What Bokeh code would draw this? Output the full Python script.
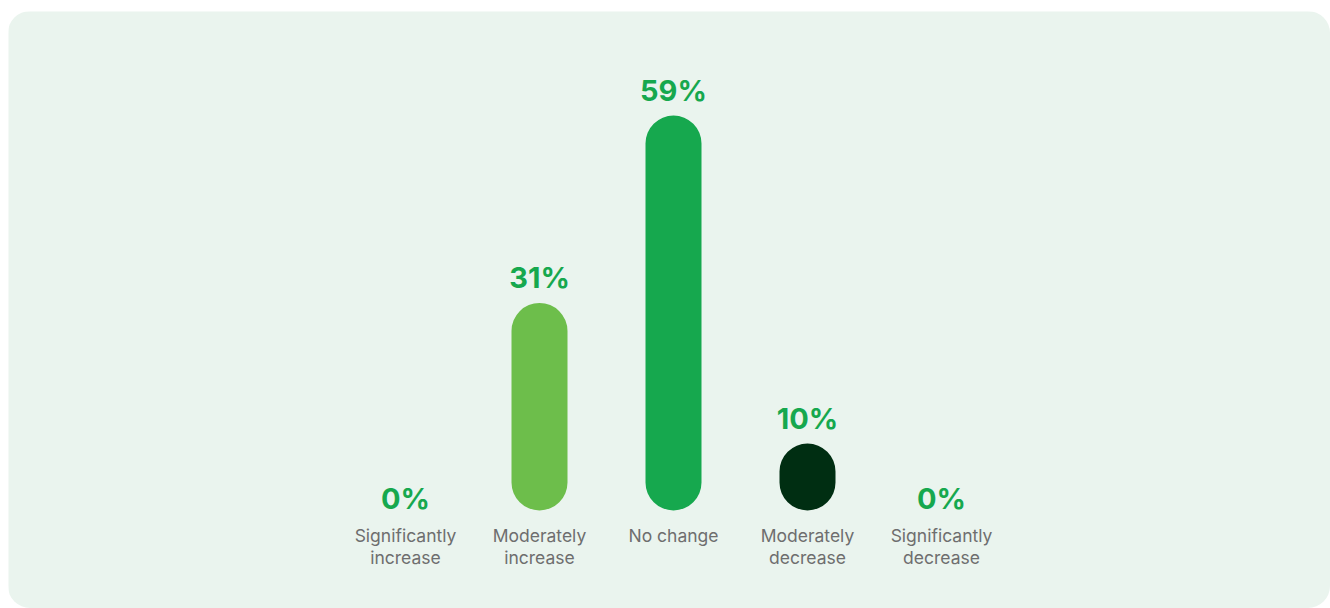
from bokeh.plotting import figure
from bokeh.models import ColumnDataSource, Range1d
from bokeh.core.properties import value
from bokeh.embed import file_html
from bokeh.resources import INLINE

categories = ["Significantly\nincrease", "Moderately\nincrease", "No change",
              "Moderately\ndecrease", "Significantly\ndecrease"]
values = [0, 31, 59, 10, 0]
labels = ["0%", "31%", "59%", "10%", "0%"]
bar_colors = ["#A9D98E", "#6DBE4B", "#16A84E", "#002E12", "#002E12"]

PANEL = "#EAF4EE"
W, H = 1322, 597

xs = list(range(len(categories)))
px_per_unit = 134.0
x0_px = 397
px_per_val = 6.695
y0_px = 98

p = figure(width=W, height=H, output_backend="svg", toolbar_location=None,
           x_range=Range1d(-x0_px / px_per_unit, (W - x0_px) / px_per_unit),
           y_range=Range1d(-y0_px / px_per_val, (H - y0_px) / px_per_val),
           min_border=0, background_fill_color=PANEL, border_fill_color=PANEL,
           outline_line_color=None, margin=(11, 0, 0, 8),
           styles={"border-radius": "22px", "overflow": "hidden"})
p.axis.visible = False
p.grid.visible = False

src = ColumnDataSource(dict(
    x=xs, top=values, color=bar_colors, label=labels,
    off=[-25 if v > 0 else -12 for v in values],
    l1=[c.split("\n")[0] for c in categories],
    l2=[c.split("\n")[1] if "\n" in c else "" for c in categories],
    zero=[0] * len(values),
))

p.vbar(x="x", top="top", bottom=0, width=56 / px_per_unit, color="color",
       line_color=None, border_radius=28, source=src)

p.text(x="x", y="top", text="label", y_offset="off", text_align="center",
       text_baseline="middle", text_font=value("Inter"), text_font_style="bold",
       text_font_size="29px", text_color="#16A84E", source=src)

for col, off in (("l1", 25), ("l2", 47)):
    p.text(x="x", y="zero", text=col, y_offset=off, text_align="center",
           text_baseline="middle", text_font=value("Inter"), text_font_size="17.5px",
           text_color="#6E6E6E", source=src)

open("out.html", "w").write(file_html(p, INLINE))
